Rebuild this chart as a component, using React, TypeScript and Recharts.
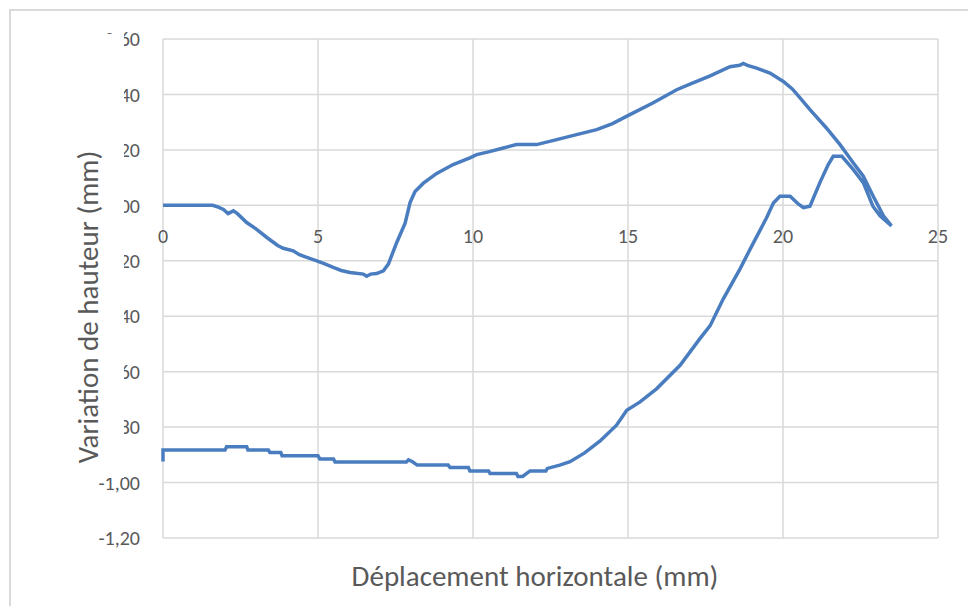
import { CartesianGrid, Line, LineChart, XAxis, YAxis } from 'recharts';

// ticks
const X_TICKS = [0, 5, 10, 15, 20, 25];
const Y_TICKS = [-1.2, -1.0, -0.8, -0.6, -0.4, -0.2, 0, 0.2, 0.4, 0.6];

// aller (upper branch)
const upperX = [
  0, 1.6, 1.75, 1.95, 2.1, 2.27, 2.4, 2.7, 3.0, 3.35, 3.7, 3.88, 4.2, 4.4, 4.64, 4.96,
  5.2, 5.49, 5.75, 6.03, 6.46, 6.57, 6.7, 6.89, 7.11, 7.27, 7.54, 7.81, 7.97, 8.13, 8.4,
  8.83, 9.36, 9.9, 10.12, 10.5, 10.98, 11.4, 12.05, 12.7, 13.34, 13.99, 14.5, 15.06,
  15.8, 16.57, 17.0, 17.65, 18.29, 18.6, 18.72, 18.85, 19.15, 19.58, 20.01, 20.3, 20.55,
  20.87, 21.4, 21.84, 22.27, 22.59, 22.91, 23.24, 23.5,
];
const upperY = [
  0, 0, -0.005, -0.015, -0.03, -0.02, -0.03, -0.062, -0.085, -0.116, -0.145, -0.155,
  -0.164, -0.178, -0.188, -0.2, -0.21, -0.224, -0.235, -0.242, -0.248, -0.256, -0.248,
  -0.246, -0.236, -0.212, -0.134, -0.064, 0.01, 0.05, 0.08, 0.115, 0.147, 0.171, 0.183,
  0.193, 0.207, 0.219, 0.219, 0.237, 0.255, 0.273, 0.295, 0.327, 0.369, 0.417, 0.437,
  0.467, 0.5, 0.505, 0.512, 0.505, 0.495, 0.477, 0.447, 0.42, 0.388, 0.345, 0.279,
  0.219, 0.153, 0.105, 0.033, -0.038, -0.074,
];

// retour (lower branch), from the right end back to x = 0
const lowerX = [
  23.13, 22.9, 22.59, 22.27, 21.9, 21.62, 21.46, 21.19, 20.87, 20.66, 20.5, 20.23, 19.9,
  19.69, 19.47, 18.94, 18.61, 18.07, 17.65, 17.32, 16.68, 15.93, 15.39, 14.96, 14.63,
  14.1, 13.6, 13.13, 12.8, 12.4, 12.35, 11.84, 11.6, 11.45, 11.4, 10.55, 10.5, 9.9, 9.85,
  9.26, 9.2, 8.2, 8.05, 7.92, 7.85, 5.55, 5.5, 5.06, 5.0, 3.84, 3.8, 3.45, 3.4, 2.74, 2.7,
  2.05, 2.0, 0, 0,
];
const lowerY = [
  -0.038, -0.003, 0.082, 0.129, 0.177, 0.177, 0.147, 0.082, -0.003, -0.008, 0.004, 0.033,
  0.033, 0.008, -0.045, -0.158, -0.23, -0.338, -0.434, -0.481, -0.577, -0.661, -0.709,
  -0.739, -0.793, -0.85, -0.893, -0.925, -0.937, -0.949, -0.958, -0.958, -0.978, -0.978,
  -0.967, -0.967, -0.958, -0.958, -0.946, -0.946, -0.937, -0.937, -0.925, -0.918, -0.926,
  -0.926, -0.915, -0.915, -0.903, -0.903, -0.892, -0.892, -0.883, -0.883, -0.871, -0.871,
  -0.883, -0.883, -0.924,
];

const data = [
  ...upperX.map((x, i) => ({ x, y: upperY[i] })),
  ...lowerX.map((x, i) => ({ x, y: lowerY[i] })),
];

const WIDTH = 968;
const HEIGHT = 606;
const PLOT_LEFT = 163;
const PLOT_RIGHT = 938;
const PLOT_TOP = 39;
const PLOT_BOTTOM = 538;
const Y_MIN = -1.2;
const Y_MAX = 0.6;
const ZERO_Y = PLOT_TOP + ((PLOT_BOTTOM - PLOT_TOP) * Y_MAX) / (Y_MAX - Y_MIN);

const Y_AXIS_WIDTH = 150;
const X_AXIS_HEIGHT = 50;

const FONT = 'Carlito, Calibri, Lato, sans-serif';
const TEXT_COLOR = '#595959';
const GRID_COLOR = '#d9d9d9';
const LINE_COLOR = '#4a7dbf';

const fmt = (v: number) => v.toFixed(2).replace('.', ',');

const XTick = ({ x, payload }: any) => (
  <text x={x} y={ZERO_Y + 38} textAnchor="middle" fill={TEXT_COLOR} fontSize={20} fontFamily={FONT}>
    {payload.value}
  </text>
);

const YTick = ({ y, payload }: any) => (
  <text
    x={PLOT_LEFT - 23}
    y={y}
    dy="0.36em"
    textAnchor="end"
    fill={TEXT_COLOR}
    fontSize={20}
    fontFamily={FONT}
  >
    {fmt(payload.value)}
  </text>
);

const XTitle = () => (
  <text x={535} y={586} textAnchor="middle" fill={TEXT_COLOR} fontSize={29} fontFamily={FONT}>
    Déplacement horizontale (mm)
  </text>
);

// y title sits on a white box that hides part of the tick labels, as in the original
const YTitleOverlay = () => (
  <svg width={130} height={HEIGHT} style={{ position: 'absolute', left: 0, top: 0 }}>
    <rect x={20} y={34} width={104} height={444} fill="#ffffff" />
    <text
      x={88}
      y={307}
      transform="rotate(-90 88 307)"
      textAnchor="middle"
      dominantBaseline="central"
      fill={TEXT_COLOR}
      fontSize={29}
      fontFamily={FONT}
    >
      Variation de hauteur (mm)
    </text>
  </svg>
);

export default function App() {
  return (
    <div style={{ position: 'fixed', left: 0, top: 0, width: WIDTH, height: HEIGHT, overflow: 'hidden', background: '#fff' }}>
      <div style={{ position: 'absolute', left: 0, top: 0 }}>
        <LineChart
          width={WIDTH}
          height={HEIGHT}
          data={data}
          margin={{
            top: PLOT_TOP,
            right: WIDTH - PLOT_RIGHT,
            bottom: HEIGHT - PLOT_BOTTOM - X_AXIS_HEIGHT,
            left: PLOT_LEFT - Y_AXIS_WIDTH,
          }}
        >
          <CartesianGrid stroke={GRID_COLOR} strokeWidth={1.5} />
          <XAxis
            type="number"
            dataKey="x"
            domain={[0, 25]}
            ticks={X_TICKS}
            height={X_AXIS_HEIGHT}
            axisLine={false}
            tickLine={false}
            tick={XTick}
            label={XTitle}
          />
          <YAxis
            type="number"
            domain={[Y_MIN, Y_MAX]}
            ticks={Y_TICKS}
            width={Y_AXIS_WIDTH}
            axisLine={false}
            tickLine={false}
            tick={YTick}
          />
          <Line
            type="linear"
            dataKey="y"
            stroke={LINE_COLOR}
            strokeWidth={3.5}
            dot={false}
            activeDot={false}
            isAnimationActive={false}
          />
        </LineChart>
      </div>
      <YTitleOverlay />
      <div
        style={{
          position: 'absolute',
          left: 9,
          top: 9,
          width: 2000,
          height: 2000,
          borderLeft: `2px solid ${GRID_COLOR}`,
          borderTop: `2px solid ${GRID_COLOR}`,
          pointerEvents: 'none',
        }}
      />
    </div>
  );
}
